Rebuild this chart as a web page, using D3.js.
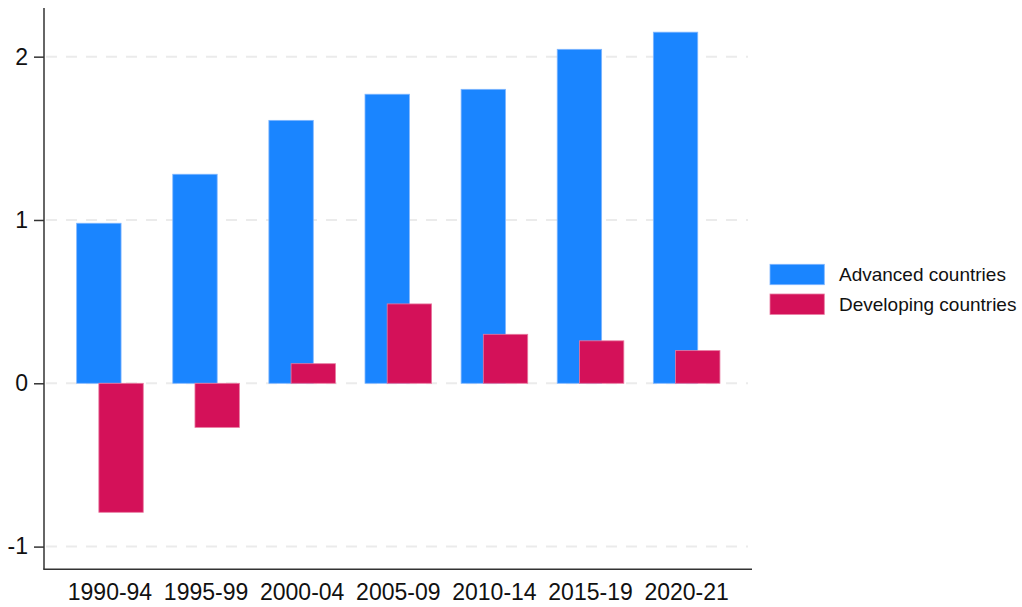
<!DOCTYPE html>
<html>
<head>
<meta charset="utf-8">
<script src="https://cdn.jsdelivr.net/npm/d3@7"></script>
<style>
  html, body { margin: 0; padding: 0; background: #ffffff; }
  svg { display: block; }
  text { font-family: Arial, "Liberation Sans", sans-serif; fill: #111; }
</style>
</head>
<body>
<svg id="chart" width="1022" height="607"></svg>
<script>
const categories = ["1990-94", "1995-99", "2000-04", "2005-09", "2010-14", "2015-19", "2020-21"];
const advanced = [0.98, 1.28, 1.61, 1.77, 1.80, 2.045, 2.15];
const developing = [-0.79, -0.27, 0.12, 0.486, 0.30, 0.26, 0.20];
const seriesNames = ["Advanced countries", "Developing countries"];
const seriesColors = ["#1A85FF", "#D41159"];
const strokeColors = ["#7fb6ff", "#e87aa0"];
const yTicks = [-1, 0, 1, 2];

const svg = d3.select("#chart");

const axisX = 44, axisTop = 8, axisBottom = 569.3, axisRight = 752;
const y = d3.scaleLinear().domain([-1.139, 2.298]).range([axisBottom, axisTop]);
const x = d3.scaleBand().domain(categories).range([61.9, 734.7]).padding(0);
const barW = 44.4, offset = 22.2;
const fontFam = "Arial, 'Liberation Sans', sans-serif";

// gridlines
svg.append("g").selectAll("line").data(yTicks).join("line")
  .attr("x1", axisX + 2).attr("x2", 748)
  .attr("y1", d => y(d)).attr("y2", d => y(d))
  .attr("stroke", "#ebebeb").attr("stroke-width", 2)
  .attr("stroke-dasharray", "11,9");

const series = [advanced, developing];
series.forEach((vals, si) => {
  svg.append("g").selectAll("rect").data(categories).join("rect")
    .attr("x", (d) => x(d) + x.bandwidth() / 2 - 33.3 + si * offset)
    .attr("width", barW)
    .attr("y", (d, i) => Math.min(y(vals[i]), y(0)))
    .attr("height", (d, i) => Math.abs(y(vals[i]) - y(0)))
    .attr("fill", seriesColors[si])
    .attr("stroke", strokeColors[si])
    .attr("stroke-width", 0.8);
});

// y axis
const yAxis = d3.axisLeft(y).tickValues(yTicks).tickSize(10).tickPadding(6).tickFormat(d => String(d));
const gy = svg.append("g").attr("transform", `translate(${axisX},0)`).call(yAxis);
gy.select(".domain").remove();
gy.selectAll(".tick line").attr("stroke", "#333").attr("stroke-width", 1.5);
gy.selectAll(".tick text").attr("font-size", "23px").attr("fill", "#111")
  .style("font-family", fontFam);
svg.append("line").attr("x1", axisX).attr("x2", axisX).attr("y1", axisTop).attr("y2", axisBottom)
  .attr("stroke", "#333").attr("stroke-width", 1.5);

// x axis
const xAxis = d3.axisBottom(x).tickSize(0).tickPadding(14);
const gx = svg.append("g").attr("transform", `translate(0,${axisBottom})`).call(xAxis);
gx.select(".domain").remove();
gx.selectAll(".tick text").attr("font-size", "23px").attr("fill", "#111")
  .style("font-family", fontFam);
svg.append("line").attr("x1", axisX - 0.75).attr("x2", axisRight).attr("y1", axisBottom).attr("y2", axisBottom)
  .attr("stroke", "#333").attr("stroke-width", 1.5);

// legend
const legend = svg.append("g");
seriesNames.forEach((name, i) => {
  const ly = 264.3 + i * 29.7;
  legend.append("rect").attr("x", 770).attr("y", ly).attr("width", 54.3).attr("height", 20.4)
    .attr("fill", seriesColors[i]).attr("stroke", strokeColors[i]).attr("stroke-width", 0.8);
  legend.append("text").attr("x", 839).attr("y", ly + 10.2).attr("dy", "0.35em")
    .attr("font-size", "19px").text(name);
});
</script>
</body>
</html>
